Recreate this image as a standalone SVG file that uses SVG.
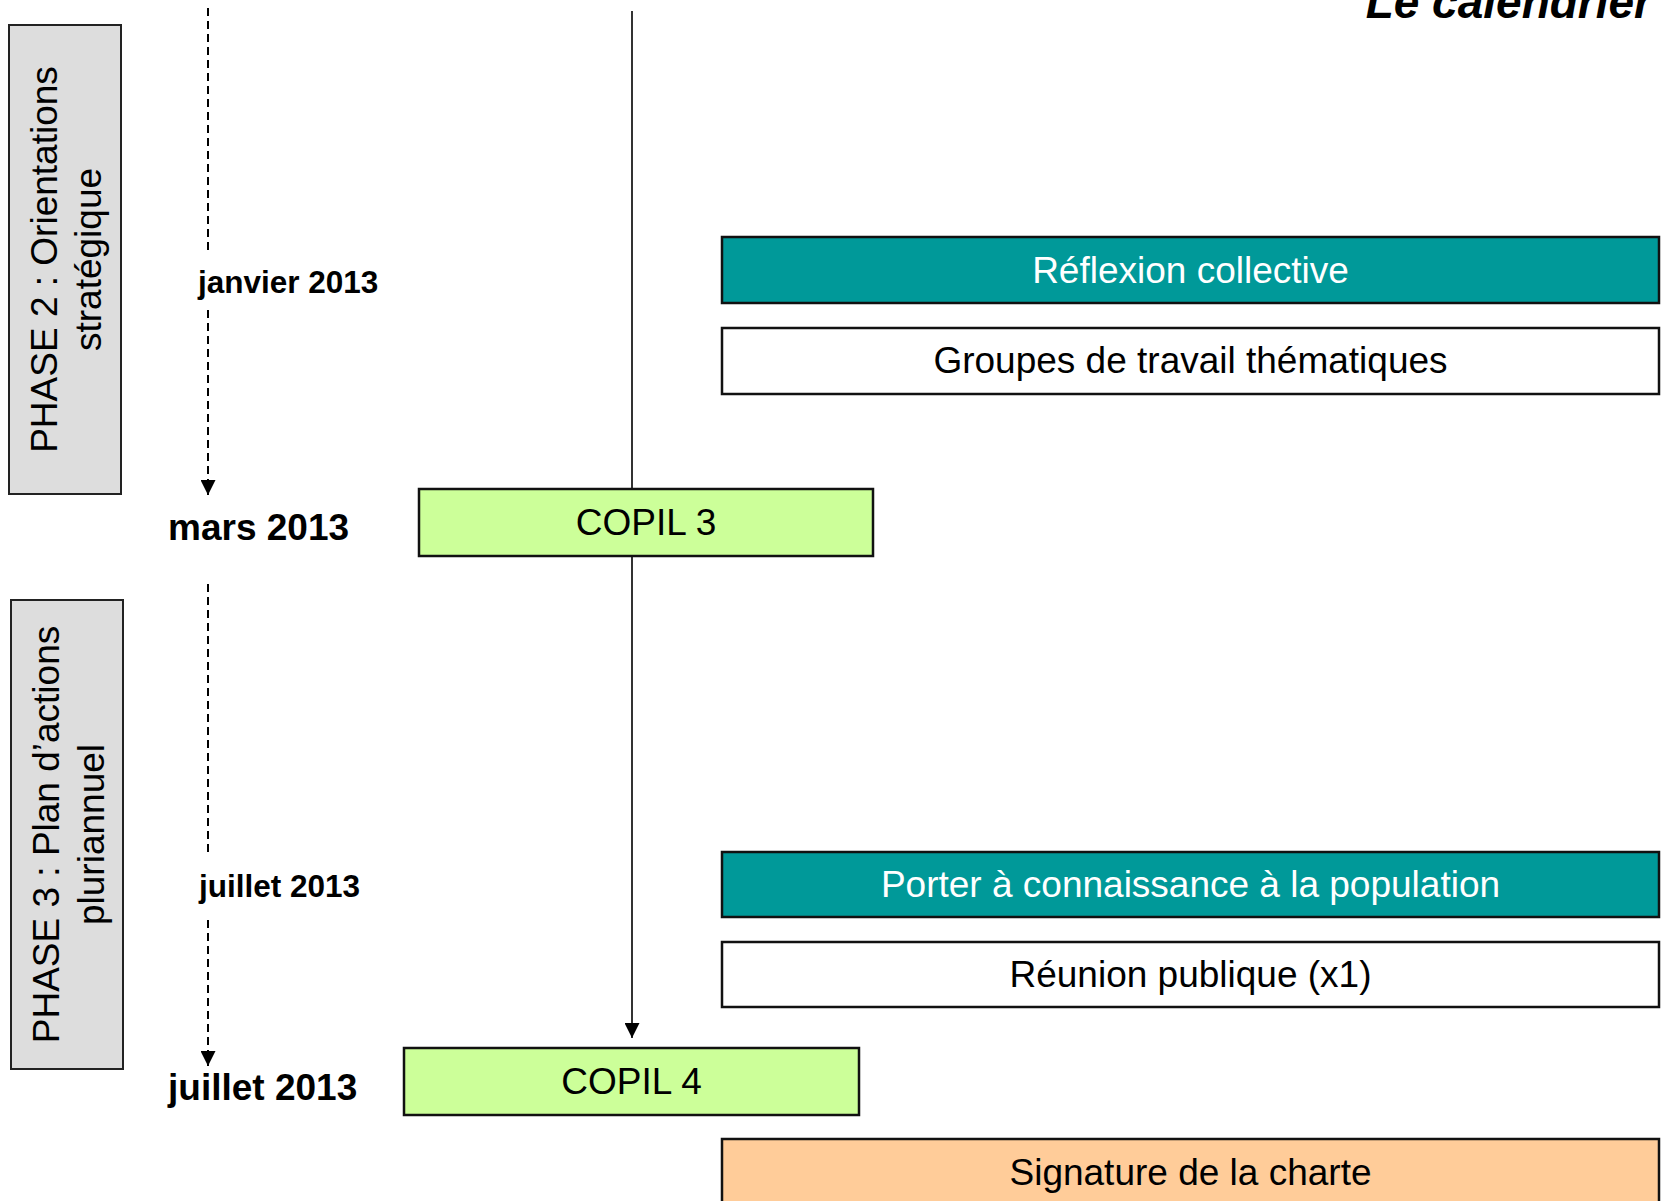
<svg xmlns="http://www.w3.org/2000/svg" width="1666" height="1201" viewBox="0 0 1666 1201">
<style>
.box{stroke:#111;stroke-width:2.5}
.phase{fill:#DDDDDD;stroke:#222;stroke-width:2}
.t{font-family:"Liberation Sans",Arial,sans-serif;font-size:37px;fill:#000;text-anchor:middle}
.w{fill:#fff}
.date{font-family:"Liberation Sans",Arial,sans-serif;font-weight:bold;fill:#000}
.dash{stroke:#000;stroke-width:2;stroke-dasharray:8 5;fill:none}
.solid{stroke:#333;stroke-width:2;fill:none}
</style>
<defs>
<marker id="ah" viewBox="0 0 10 10" refX="10" refY="5" markerWidth="7.5" markerHeight="7.5" markerUnits="strokeWidth" orient="auto">
<path d="M0,0 L10,5 L0,10 Z" fill="#000"/>
</marker>
</defs>
<rect width="1666" height="1201" fill="#fff"/>
<text id="title" x="1652" y="18" font-family="Liberation Sans,Arial,sans-serif" font-size="46" font-weight="bold" font-style="italic" text-anchor="end">Le calendrier</text>

<g id="connectors">
<line class="dash" x1="208" y1="8" x2="208" y2="250"/>
<line class="dash" x1="208" y1="310" x2="208" y2="495" marker-end="url(#ah)"/>
<line class="dash" x1="208" y1="584" x2="208" y2="857"/>
<line class="dash" x1="208" y1="920" x2="208" y2="1066" marker-end="url(#ah)"/>
<line class="solid" x1="632" y1="11" x2="632" y2="489"/>
<line class="solid" x1="632" y1="556" x2="632" y2="1038" marker-end="url(#ah)"/>
</g>

<g id="phase2">
<rect class="phase" x="9" y="25" width="112" height="469"/>
<text class="t" transform="translate(57,259.5) rotate(-90)">PHASE 2 : Orientations</text>
<text class="t" transform="translate(101,259.5) rotate(-90)">stratégique</text>
</g>
<g id="phase3">
<rect class="phase" x="11" y="600" width="112" height="469"/>
<text class="t" transform="translate(59,834.5) rotate(-90)">PHASE 3 : Plan d’actions</text>
<text class="t" transform="translate(104,834.5) rotate(-90)">pluriannuel</text>
</g>

<g id="date-janvier"><text class="date" x="198" y="293" font-size="31.5">janvier 2013</text></g>
<g id="date-mars"><text class="date" x="168" y="540" font-size="37">mars 2013</text></g>
<g id="date-juillet1"><text class="date" x="199" y="897" font-size="31.5">juillet 2013</text></g>
<g id="date-juillet2"><text class="date" x="168" y="1100" font-size="37">juillet 2013</text></g>

<g id="reflexion">
<rect class="box" x="722" y="237" width="937" height="66" fill="#009999"/>
<text class="t w" x="1190.5" y="283">Réflexion collective</text>
</g>
<g id="groupes">
<rect class="box" x="722" y="328" width="937" height="66" fill="#fff"/>
<text class="t" x="1190.5" y="373">Groupes de travail thématiques</text>
</g>
<g id="copil3">
<rect class="box" x="419" y="489" width="454" height="67" fill="#CCFF99"/>
<text class="t" x="646" y="535">COPIL 3</text>
</g>
<g id="porter">
<rect class="box" x="722" y="852" width="937" height="65" fill="#009999"/>
<text class="t w" x="1190.5" y="897">Porter à connaissance à la population</text>
</g>
<g id="reunion">
<rect class="box" x="722" y="942" width="937" height="65" fill="#fff"/>
<text class="t" x="1190.5" y="987">Réunion publique (x1)</text>
</g>
<g id="copil4">
<rect class="box" x="404" y="1048" width="455" height="67" fill="#CCFF99"/>
<text class="t" x="631.5" y="1094">COPIL 4</text>
</g>
<g id="signature">
<rect class="box" x="722" y="1139" width="937" height="66" fill="#FFCC99"/>
<text class="t" x="1190.5" y="1185">Signature de la charte</text>
</g>
</svg>
